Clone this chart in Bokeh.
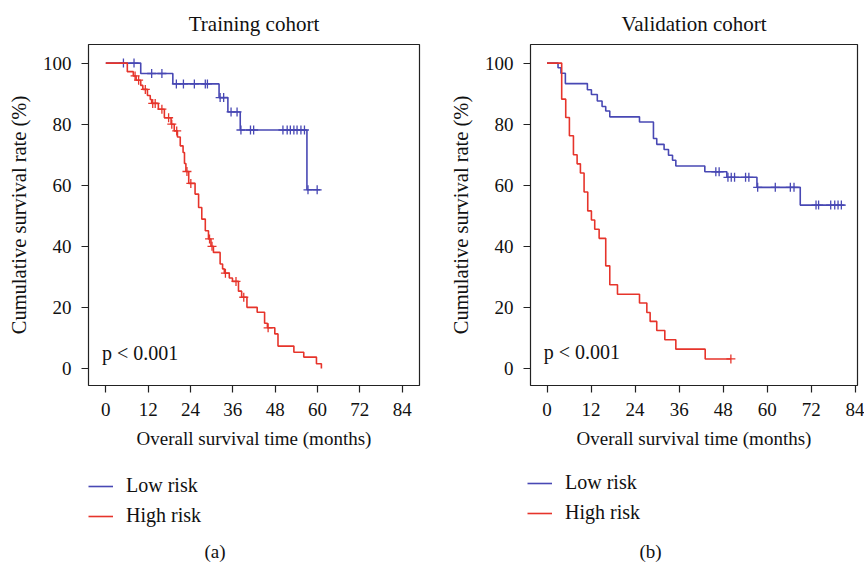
from bokeh.plotting import figure
from bokeh.models import Range1d, FixedTicker, Legend, LegendItem, Label
from bokeh.layouts import row, column
from bokeh.embed import file_html
from bokeh.resources import INLINE

# ---------------- data ----------------
x_ticks = [0, 12, 24, 36, 48, 60, 72, 84]
y_ticks = [0, 20, 40, 60, 80, 100]

# Training cohort
tr_low_time = [0, 9.9, 19.0, 32.1, 34.6, 38.1, 57.0, 60.8]
tr_low_surv = [100, 96.6, 93.2, 88.7, 84.0, 78.1, 58.5, 58.5]
tr_low_cens = [5.0, 8.0, 13.0, 15.9, 20.0, 22.0, 25.1, 28.2, 28.8, 32.4, 33.4,
               35.5, 37.2, 38.3, 41.0, 41.9, 50.2, 51.4, 52.3, 53.3, 54.2, 55.3,
               56.3, 57.3, 59.9]

tr_high_time = [0, 6.1, 7.8, 8.6, 9.9, 10.5, 11.8, 12.6, 13.0, 14.9, 16.6, 18.5,
                19.4, 20.3, 21.1, 21.9, 22.3, 22.7, 23.5, 25.3, 26.3, 27.2, 28.2,
                29.1, 29.8, 30.5, 32.4, 33.1, 33.6, 35.0, 35.9, 37.6, 38.5, 40.0,
                42.9, 45.0, 45.8, 47.9, 48.8, 53.3, 56.1, 59.7, 61.1]
tr_high_surv = [100, 97.2, 95.8, 94.4, 92.7, 91.4, 89.4, 88.1, 86.8, 84.9, 82.1,
                80.0, 77.8, 75.8, 72.9, 70.7, 67.1, 64.5, 60.6, 57.1, 52.7, 48.9,
                45.1, 42.4, 40.0, 38.0, 34.2, 32.6, 31.2, 29.6, 28.5, 25.3, 23.3,
                20.0, 18.4, 14.8, 13.3, 11.3, 7.3, 5.3, 3.7, 1.5, 0]
tr_high_cens = [8.3, 9.3, 11.2, 13.3, 14.0, 15.9, 17.8, 18.7, 20.1, 23.0, 24.1,
                29.4, 30.1, 33.9, 36.9, 39.1, 46.0]

# Validation cohort
va_low_time = [0, 3.0, 3.8, 5.0, 11.0, 12.1, 13.7, 15.0, 16.0, 17.1, 25.2, 29.0,
               29.9, 31.9, 33.1, 34.2, 35.1, 43.0, 49.0, 57.2, 69.0, 81.1]
va_low_surv = [100, 98.5, 96.7, 93.3, 91.3, 89.7, 87.6, 85.8, 84.3, 82.4, 80.7,
               75.3, 73.4, 71.7, 69.8, 68.2, 66.3, 64.4, 62.6, 59.3, 53.5, 53.5]
va_low_cens = [46.0, 46.9, 49.3, 50.2, 51.1, 54.1, 55.0, 57.4, 62.2, 66.3, 67.3,
               73.3, 74.0, 77.3, 78.4, 79.3, 80.2]

va_high_time = [0, 4.0, 5.1, 6.1, 7.2, 8.2, 9.1, 10.1, 11.1, 12.1, 13.0, 14.2,
                16.0, 17.1, 19.2, 25.2, 27.2, 28.1, 29.9, 32.1, 35.1, 43.1, 50.1]
va_high_surv = [100, 88.2, 82.2, 76.2, 70.0, 67.0, 64.0, 57.8, 51.6, 48.6, 45.6,
                42.6, 33.6, 27.4, 24.3, 21.4, 18.3, 15.4, 12.4, 9.4, 6.3, 3.1, 3.1]
va_high_cens = [50.1]

series_labels = ["Low risk", "High risk"]
titles = ["Training cohort", "Validation cohort"]
captions = ["(a)", "(b)"]
p_text = "p < 0.001"

FONT = "Liberation Serif"
BLUE = "#4848b4"
RED = "#e6342b"
DARK = "#222222"
TXT = "#111111"
H_TOP = 460
H_BOT = 103
FRAME_BOTTOM = 385
NAN = float("nan")


def surv_at(times, survs, t):
    s = survs[0]
    for ti, si in zip(times, survs):
        if ti <= t:
            s = si
        else:
            break
    return s


def km_panel(title, low, high, xr, width, mbl, mbr, mbt, p_xy):
    p = figure(width=width, height=H_TOP, output_backend="svg", toolbar_location=None,
               x_range=Range1d(*xr), y_range=Range1d(-5.6, 106.1),
               min_border_left=mbl, min_border_right=mbr, min_border_top=mbt,
               min_border_bottom=H_TOP - FRAME_BOTTOM, title=title)
    p.background_fill_color = "white"
    p.border_fill_color = "white"
    p.outline_line_color = DARK
    p.outline_line_width = 1.2
    p.xgrid.visible = False
    p.ygrid.visible = False

    p.title.align = "center"
    p.title.text_font = FONT
    p.title.text_font_size = "21px"
    p.title.text_font_style = "normal"
    p.title.text_color = TXT
    p.title.standoff = 18

    for ax in (p.xaxis[0], p.yaxis[0]):
        ax.axis_line_color = None
        ax.major_tick_line_color = DARK
        ax.major_tick_line_width = 1.2
        ax.major_tick_out = 7
        ax.major_tick_in = 0
        ax.minor_tick_line_color = None
        ax.major_label_text_font = FONT
        ax.major_label_text_font_size = "19px"
        ax.major_label_text_color = TXT
        ax.axis_label_text_font = FONT
        ax.axis_label_text_font_style = "normal"
        ax.axis_label_text_color = TXT
    p.xaxis.ticker = FixedTicker(ticks=x_ticks)
    p.yaxis.ticker = FixedTicker(ticks=y_ticks)
    p.xaxis.axis_label = "Overall survival time (months)"
    p.yaxis.axis_label = "Cumulative survival rate (%)"
    p.xaxis.axis_label_text_font_size = "19px"
    p.yaxis.axis_label_text_font_size = "20.5px"
    p.xaxis.major_label_standoff = 10
    p.xaxis.axis_label_standoff = 9
    p.yaxis.major_label_standoff = 10
    p.yaxis.axis_label_standoff = 10

    for (t, s, c), col in ((low, BLUE), (high, RED)):
        p.step(t, s, mode="after", line_color=col, line_width=1.6)
        cy = [surv_at(t, s, ci) for ci in c]
        p.scatter(c, cy, marker="cross", size=9, line_color=col, line_width=1.3)

    p.add_layout(Label(x=p_xy[0], y=p_xy[1], text=p_text, text_font=FONT,
                       text_font_size="20px", text_color=TXT,
                       text_align="left", text_baseline="alphabetic"))
    return p


def legend_panel(width, leg_xy, cap, cap_x):
    q = figure(width=width, height=H_BOT, output_backend="svg", toolbar_location=None,
               x_range=Range1d(0, width), y_range=Range1d(0, H_BOT),
               x_axis_location=None, y_axis_location=None,
               min_border_left=0, min_border_right=0, min_border_top=0,
               min_border_bottom=0)
    q.outline_line_color = None
    q.xgrid.visible = False
    q.ygrid.visible = False
    q.background_fill_color = "white"
    q.border_fill_color = "white"
    # legend proxies (nothing visible is drawn from them in the panel)
    r_low = q.line([NAN], [NAN], line_color=BLUE, line_width=1.6)
    r_high = q.line([NAN], [NAN], line_color=RED, line_width=1.6)
    legend = Legend(items=[LegendItem(label=series_labels[0], renderers=[r_low]),
                           LegendItem(label=series_labels[1], renderers=[r_high])],
                    location=leg_xy, orientation="vertical")
    legend.label_text_font = FONT
    legend.label_text_font_size = "20px"
    legend.label_text_color = TXT
    legend.glyph_width = 25
    legend.glyph_height = 22
    legend.label_height = 22
    legend.label_standoff = 13
    legend.spacing = 7
    legend.padding = 0
    legend.margin = 0
    legend.border_line_color = None
    legend.background_fill_alpha = 0
    q.add_layout(legend, "center")
    q.add_layout(Label(x=cap_x, y=12, text=cap, text_font=FONT,
                       text_font_size="19px", text_color=TXT,
                       text_align="center", text_baseline="alphabetic"))
    return q


p1 = km_panel(titles[0], (tr_low_time, tr_low_surv, tr_low_cens),
              (tr_high_time, tr_high_surv, tr_high_cens),
              (-4.9, 88.9), 446, 88, 27, 43, (-1.05, 5.2))
p2 = km_panel(titles[1], (va_low_time, va_low_surv, va_low_cens),
              (va_high_time, va_high_surv, va_high_cens),
              (-4.5, 84.6), 418, 81, 7, 44, (-0.9, 5.4))
q1 = legend_panel(446, (88, 36), captions[0], 214.5)
q2 = legend_panel(418, (81, 39), captions[1], 204)

layout = column(row(p1, p2), row(q1, q2))
open("out.html", "w").write(file_html(layout, INLINE))
